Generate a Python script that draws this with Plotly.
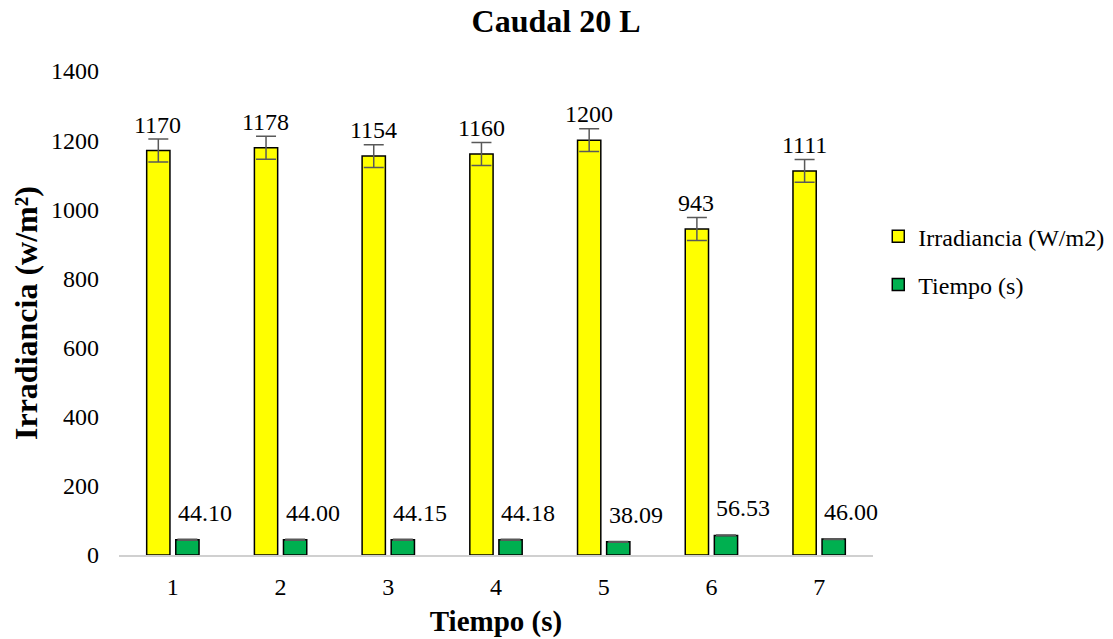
import plotly.graph_objects as go

categories = [1, 2, 3, 4, 5, 6, 7]
irradiancia = [1170, 1178, 1154, 1160, 1200, 943, 1111]
tiempo = [44.10, 44.00, 44.15, 44.18, 38.09, 56.53, 46.00]
irr_err = [33, 33, 33, 33, 33, 33, 33]
tiempo_err = [1.2, 1.2, 1.2, 1.2, 1.2, 1.2, 1.2]
y_ticks = [0, 200, 400, 600, 800, 1000, 1200, 1400]

FONT = "Liberation Serif, Times New Roman, serif"

fig = go.Figure()
fig.add_trace(go.Bar(
    x=categories, y=irradiancia, name="Irradiancia (W/m2)",
    marker=dict(color="#FFFF00", line=dict(color="black", width=1.5)),
    error_y=dict(type="data", array=irr_err, color="#595959", thickness=1.5, width=10),
    legendgroup="a",
))
fig.add_trace(go.Bar(
    x=categories, y=tiempo, name="Tiempo (s)",
    marker=dict(color="#00B050", line=dict(color="black", width=1.5)),
    error_y=dict(type="data", array=tiempo_err, color="#595959", thickness=1.5, width=10),
    legendgroup="b",
))

annotations = []
for c, v in zip(categories, irradiancia):
    annotations.append(dict(x=c, y=v, xref="x", yref="y", text=str(v), showarrow=False,
                            xshift=-15, yshift=26, font=dict(family=FONT, size=24, color="black")))
for c, v in zip(categories, tiempo):
    annotations.append(dict(x=c, y=v, xref="x", yref="y", text=f"{v:.2f}", showarrow=False,
                            xshift=32, yshift=27, font=dict(family=FONT, size=24, color="black")))

fig.update_layout(
    width=1105, height=631,
    paper_bgcolor="white", plot_bgcolor="white",
    margin=dict(l=111, r=240, t=63, b=84, autoexpand=False),
    barmode="group", bargap=0.46, bargroupgap=0.2,
    font=dict(family=FONT, size=24, color="black"),
    title=dict(text="<b>Caudal 20 L</b>", x=0.496, xref="container", xanchor="center",
               y=1, yref="container", yanchor="top", pad=dict(t=2),
               font=dict(family=FONT, size=32, color="black")),
    xaxis=dict(
        tickmode="array", tickvals=categories, ticktext=[str(c) for c in categories],
        range=[0.5, 7.5], showline=True, linecolor="#D0D0D0", linewidth=1.5,
        ticks="", showgrid=False, zeroline=False, ticklabelstandoff=9, automargin=False,
        tickfont=dict(family=FONT, size=24, color="black"),
        title=dict(text="<b>Tiempo (s)</b>", font=dict(family=FONT, size=29, color="black"), standoff=12),
    ),
    yaxis=dict(
        range=[0, 1400], tickvals=y_ticks, showgrid=False, zeroline=False, showline=False,
        ticks="", ticklabelstandoff=19, automargin=False,
        tickfont=dict(family=FONT, size=24, color="black"),
        title=dict(text="<b>Irradiancia (w/m²)</b>", font=dict(family=FONT, size=32, color="black"), standoff=14),
    ),
    legend=dict(x=1.007, xref="paper", y=0.704, xanchor="left", yanchor="top", tracegroupgap=14,
                font=dict(family=FONT, size=24, color="black"), bgcolor="rgba(0,0,0,0)"),
    annotations=annotations,
)

fig.write_html("out.html")
